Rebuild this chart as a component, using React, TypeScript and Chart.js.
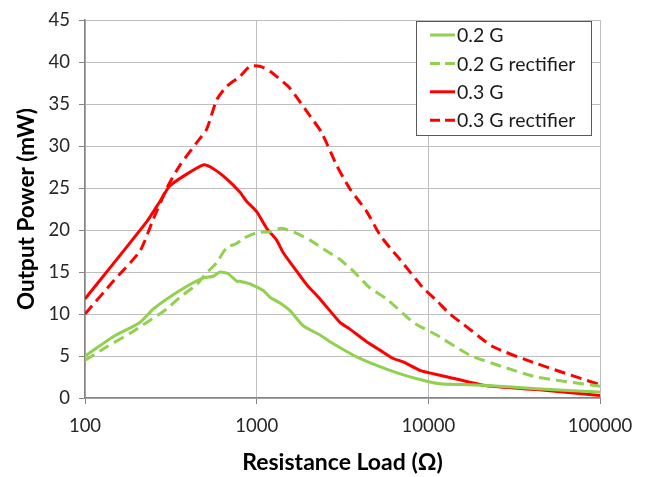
import React, { useEffect, useRef } from "react";
import { Chart, registerables } from "chart.js";

Chart.register(...registerables);

// ---- data ----
const seriesNames = ["0.2 G", "0.2 G rectifier", "0.3 G", "0.3 G rectifier"];
const seriesColors = ["#92D050", "#92D050", "#FF0000", "#FF0000"];
const seriesDashed = [false, true, false, true];

const g02R = [100, 146, 209, 250, 357, 489, 559, 611, 683, 765, 800, 875, 914, 1092, 1195, 1367, 1563, 1868, 2337, 2673, 3822, 5970, 8933, 11670, 15960, 21870, 42740, 100000];
const g02P = [5.0, 7.3, 9.0, 10.6, 12.8, 14.3, 14.5, 15.0, 14.8, 13.9, 13.9, 13.7, 13.6, 12.8, 12.0, 11.3, 10.4, 8.6, 7.5, 6.7, 4.9, 3.3, 2.2, 1.7, 1.6, 1.5, 1.1, 0.7];

const g02rR = [100, 134, 183, 229, 299, 357, 447, 511, 585, 668, 765, 836, 1000, 1195, 1397, 1710, 2043, 2557, 3057, 3656, 4571, 5715, 8166, 11170, 17460, 27300, 42740, 100000];
const g02rP = [4.5, 6.1, 7.7, 9.0, 10.6, 12.0, 13.5, 14.9, 16.1, 17.9, 18.4, 19.0, 19.7, 19.8, 20.2, 19.6, 18.8, 17.5, 16.5, 15.1, 13.1, 11.8, 9.0, 7.5, 5.1, 3.7, 2.5, 1.4];

const g03R = [100, 229, 273, 313, 489, 559, 668, 800, 875, 1000, 1143, 1306, 1429, 1710, 1955, 2337, 3057, 3493, 4375, 5227, 6250, 7145, 8933, 11670, 13960, 21870, 42740, 100000];
const g03P = [11.8, 21.0, 23.4, 25.3, 27.75, 27.3, 26.1, 24.5, 23.4, 22.2, 20.2, 18.8, 17.3, 15.1, 13.5, 11.8, 9.0, 8.2, 6.7, 5.7, 4.7, 4.3, 3.3, 2.7, 2.35, 1.45, 1.0, 0.3];

const g03rR = [100, 146, 209, 250, 305, 357, 447, 511, 585, 668, 800, 914, 1045, 1195, 1528, 1671, 2043, 2392, 2924, 3493, 4375, 5227, 5970, 6834, 9336, 11170, 13360, 15960, 23880, 42740, 100000];
const g03rP = [10.0, 13.9, 17.5, 21.3, 25.3, 27.7, 30.4, 32.0, 35.5, 37.1, 38.3, 39.5, 39.5, 38.9, 37.1, 36.1, 33.6, 31.6, 27.7, 24.9, 22.2, 19.4, 17.9, 16.5, 13.1, 11.6, 10.0, 8.8, 6.1, 4.1, 1.57];

const xTicks = [100, 1000, 10000, 100000];
const yMin = 0;
const yMax = 45;
const yStep = 5;

const seriesR = [g02R, g02rR, g03R, g03rR];
const seriesP = [g02P, g02rP, g03P, g03rP];

const FONT = "Lato, 'Open Sans', 'Noto Sans', sans-serif";

const legendPlugin = {
  id: "boxLegend",
  afterDraw(chart: any) {
    const ctx = chart.ctx;
    const x0 = 416, y0 = 21, w = 175, h = 114;
    ctx.save();
    ctx.fillStyle = "#ffffff";
    ctx.fillRect(x0, y0, w, h);
    ctx.strokeStyle = "#595959";
    ctx.lineWidth = 1;
    ctx.strokeRect(x0 + 0.5, y0 + 0.5, w, h);
    chart.data.datasets.forEach((ds: any, i: number) => {
      const y = 35 + i * 28.4;
      ctx.beginPath();
      ctx.setLineDash(ds.borderDash && ds.borderDash.length ? [10, 5] : []);
      ctx.strokeStyle = ds.borderColor;
      ctx.lineWidth = 3;
      ctx.moveTo(430, y);
      ctx.lineTo(455, y);
      ctx.stroke();
      ctx.setLineDash([]);
      ctx.fillStyle = "#1a1a1a";
      ctx.font = `19.5px ${FONT}`;
      ctx.textBaseline = "middle";
      ctx.textAlign = "left";
      ctx.fillText(ds.label, 457, y + 1);
    });
    ctx.restore();
  },
};

export default function App() {
  const ref = useRef<HTMLCanvasElement>(null);
  useEffect(() => {
    if (!ref.current) return;
    const datasets = seriesNames.map((name, i) => ({
      label: name,
      data: seriesR[i].map((r, j) => ({ x: r, y: seriesP[i][j] })),
      borderColor: seriesColors[i],
      backgroundColor: seriesColors[i],
      borderWidth: 3,
      borderDash: seriesDashed[i] ? [11, 6] : [],
      pointRadius: 0,
      tension: 0.2,
      fill: false,
    }));
    const chart = new Chart(ref.current, {
      type: "line",
      data: { datasets },
      plugins: [legendPlugin],
      options: {
        animation: false,
        responsive: false,
        devicePixelRatio: 1,
        layout: { padding: { left: 0, right: 46, top: 16, bottom: 0 } },
        plugins: { legend: { display: false }, tooltip: { enabled: false } },
        scales: {
          x: {
            type: "logarithmic",
            min: 100,
            max: 100000,
            afterBuildTicks: (axis: any) => {
              axis.ticks = xTicks.map((v) => ({ value: v }));
            },
            afterFit: (axis: any) => {
              axis.height = 79;
            },
            ticks: {
              autoSkip: false,
              maxRotation: 0,
              padding: 11,
              color: "#262626",
              font: { family: FONT, size: 18.5 },
              callback: (v: any) => String(v),
            },
            grid: { color: "#bfbfbf", lineWidth: 1, tickLength: 6, tickColor: "#868686" },
            border: { color: "#868686", width: 1.5 },
            title: {
              display: true,
              text: "Resistance Load (Ω)",
              color: "#000",
              font: { family: FONT, size: 23, weight: "bold" },
              padding: { top: 0, bottom: 1 },
            },
          },
          y: {
            min: yMin,
            max: yMax,
            ticks: {
              stepSize: yStep,
              padding: 9,
              color: "#262626",
              font: { family: FONT, size: 18.5 },
            },
            afterFit: (axis: any) => {
              axis.width = 85;
            },
            grid: { color: "#bfbfbf", lineWidth: 1, tickLength: 6, tickColor: "#868686" },
            border: { color: "#868686", width: 1.5 },
            title: {
              display: true,
              text: "Output Power (mW)",
              color: "#000",
              font: { family: FONT, size: 22.5, weight: "bold" },
              padding: { top: 13.5, bottom: 0 },
            },
          },
        },
      },
    } as any);
    return () => chart.destroy();
  }, []);
  return (
    <div style={{ position: "absolute", left: 0, top: 0, width: 646, height: 477, background: "#fff" }}>
      <canvas ref={ref} width={646} height={477} style={{ display: "block" }} />
    </div>
  );
}
